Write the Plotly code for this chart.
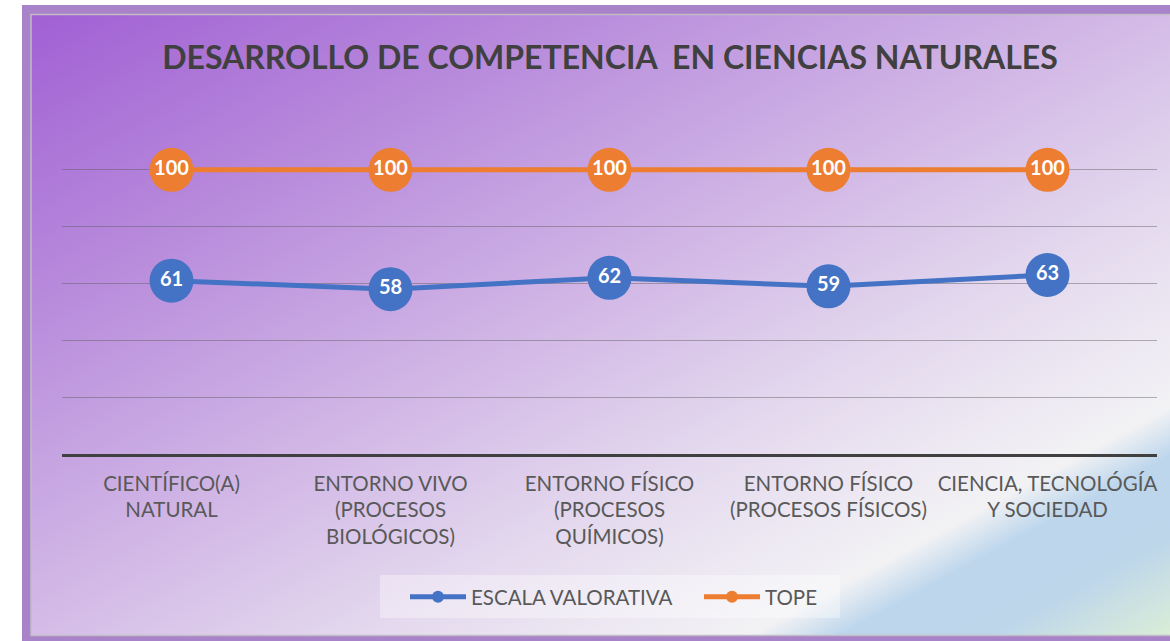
import base64
import plotly.graph_objects as go

categories = [
    "CIENTÍFICO(A)<br>NATURAL",
    "ENTORNO VIVO<br>(PROCESOS<br>BIOLÓGICOS)",
    "ENTORNO FÍSICO<br>(PROCESOS<br>QUÍMICOS)",
    "ENTORNO FÍSICO<br>(PROCESOS FÍSICOS)",
    "CIENCIA, TECNOLÓGÍA<br>Y SOCIEDAD",
]
escala_valorativa = [61, 58, 62, 59, 63]
tope = [100, 100, 100, 100, 100]
series_names = ["ESCALA VALORATIVA", "TOPE"]
title_text = "DESARROLLO DE COMPETENCIA\u00a0 EN CIENCIAS NATURALES"

W, H = 1170, 641
ML, MR, MT, MB = 62, 13, 113, 187
PW, PH = W - ML - MR, H - MT - MB


def px_x(x):
    return (x - ML) / PW


def px_y(y):
    return 1 - (y - MT) / PH


BLUE = "#4472c4"
ORANGE = "#ed7d31"
FONT = "Lato"

# background gradient as svg image (diagonal, bounding-box based)
svg = (
    "<svg xmlns='http://www.w3.org/2000/svg' width='1141' height='620' viewBox='0 0 1141 620' "
    "preserveAspectRatio='none'><defs><linearGradient id='g' "
    "x1='0' y1='0' x2='1' y2='1'>"
    "<stop offset='0' stop-color='#a160d4'/>"
    "<stop offset='0.25' stop-color='#b98ddc'/>"
    "<stop offset='0.5' stop-color='#d4bce7'/>"
    "<stop offset='0.65' stop-color='#e4d9ee'/>"
    "<stop offset='0.76' stop-color='#eeeaf3'/>"
    "<stop offset='0.815' stop-color='#f2f2f4'/>"
    "<stop offset='0.855' stop-color='#bdd6ec'/>"
    "<stop offset='0.92' stop-color='#bdd6ea'/>"
    "<stop offset='0.97' stop-color='#d0e5df'/>"
    "<stop offset='1' stop-color='#daedd6'/>"
    "</linearGradient></defs><rect width='1141' height='620' fill='url(#g)'/></svg>"
)
svg_uri = "data:image/svg+xml;base64," + base64.b64encode(svg.encode("utf-8")).decode("ascii")

fig = go.Figure()
fig.add_trace(go.Scatter(
    x=categories, y=escala_valorativa, name=series_names[0], mode="lines+markers",
    line=dict(color=BLUE, width=5), marker=dict(color=BLUE, size=44),
))
fig.add_trace(go.Scatter(
    x=categories, y=tope, name=series_names[1], mode="lines+markers",
    line=dict(color=ORANGE, width=5), marker=dict(color=ORANGE, size=44),
))
for vals in (escala_valorativa, tope):
    fig.add_trace(go.Scatter(
        x=categories, y=vals, mode="text", text=[str(v) for v in vals],
        textposition="middle center", showlegend=False, hoverinfo="skip",
        textfont=dict(family=FONT, size=20, color="white", weight="bold"),
    ))

fig.update_layout(
    width=W, height=H,
    margin=dict(l=ML, r=MR, t=MT, b=MB),
    paper_bgcolor="white",
    plot_bgcolor="rgba(0,0,0,0)",
    title=dict(
        text=title_text, x=610 / W, xanchor="center", y=1 - 58 / H, yanchor="middle",
        font=dict(family=FONT, size=32, color="#404040", weight="bold"),
    ),
    xaxis=dict(
        type="category", range=[-0.5, 4.5], showline=True, linecolor="#404040", linewidth=3,
        showgrid=False, ticks="", ticklabelstandoff=9,
        tickfont=dict(family=FONT, size=20.5, color="#595959"),
    ),
    yaxis=dict(
        range=[0, 120], dtick=20, showticklabels=False, showgrid=True,
        gridcolor="rgba(90,90,90,0.45)", gridwidth=1, zeroline=False, fixedrange=True,
    ),
    legend=dict(
        orientation="h", x=px_x(405), xanchor="left", y=px_y(597), yanchor="middle",
        bgcolor="rgba(0,0,0,0)", font=dict(family=FONT, size=20.5, color="#595959"),
        itemsizing="constant", itemwidth=56, entrywidth=223,
    ),
    images=[dict(
        source=svg_uri, xref="paper", yref="paper", x=px_x(31), y=px_y(15),
        sizex=(1172 - 31) / PW, sizey=(635 - 15) / PH, xanchor="left", yanchor="top",
        sizing="stretch", layer="below",
    )],
    shapes=[
        dict(type="rect", xref="paper", yref="paper", x0=px_x(26.5), x1=px_x(1176), y0=px_y(640.5),
             y1=px_y(9.5), line=dict(color="#a983c9", width=9), layer="below"),
        dict(type="rect", xref="paper", yref="paper", x0=px_x(31), x1=px_x(1175), y0=px_y(635.5),
             y1=px_y(14.5), line=dict(color="#c2bcc6", width=1.5), layer="below"),
        dict(type="rect", xref="paper", yref="paper", x0=px_x(380), x1=px_x(840), y0=px_y(618),
             y1=px_y(575), line=dict(width=0), fillcolor="rgba(255,255,255,0.35)", layer="below"),
    ],
)

fig.write_html("out.html", config={"displayModeBar": False},
               post_script="document.body.style.margin='0';")
